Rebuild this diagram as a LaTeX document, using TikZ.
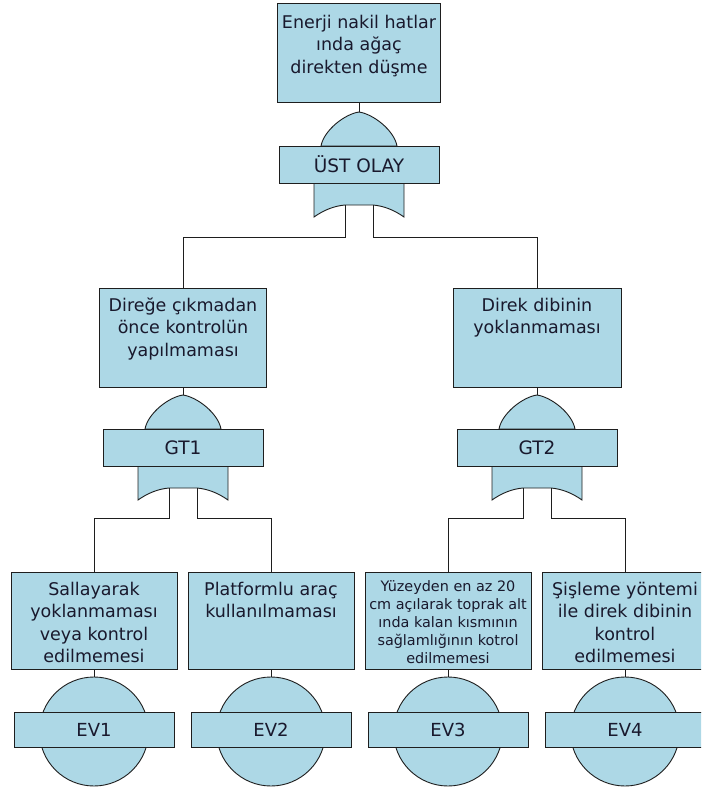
\documentclass[tikz,border=0pt]{standalone}
\usepackage{fontspec}
\setmainfont{DejaVu Sans}
\begin{document}
\definecolor{boxblue}{RGB}{173,216,230}
\definecolor{inkline}{RGB}{30,30,30}
\definecolor{inktext}{RGB}{25,25,45}
\tikzset{
  shapeline/.style={draw=inkline, line width=0.9pt, fill=boxblue},
  eventbox/.style={shapeline, rectangle, inner sep=0pt},
  boxtext/.style={inner sep=0pt, align=center, text=inktext, anchor=north,
    font=\fontsize{17.5}{22.5}\selectfont},
  smalltext/.style={boxtext, font=\fontsize{14.4}{18}\selectfont},
  gatebox/.style={shapeline, rectangle, inner sep=0pt, minimum width=160pt,
    minimum height=37pt, text=inktext, font=\fontsize{18.5}{22}\selectfont},
  evbox/.style={shapeline, rectangle, inner sep=0pt, minimum width=160pt,
    minimum height=35pt, text=inktext, font=\fontsize{18}{22}\selectfont},
  wire/.style={draw=inkline, line width=0.9pt},
}
% OR gate: arch on top, labelled bar, notched skirt below
% #1 name, #2 centre x, #3 apex y, #4 label
\newcommand\ftgate[4]{%
  \coordinate (#1apex) at (#2,#3);
  \filldraw[shapeline] (#2-38,#3+34) .. controls (#2-35,#3+18) and (#2-14,#3+2) .. (#1apex)
     .. controls (#2+14,#3+2) and (#2+35,#3+18) .. (#2+38,#3+34) -- cycle;
  \filldraw[shapeline] (#2-45,#3+71) -- (#2-45,#3+105)
     .. controls (#2-35,#3+98) and (#2-25,#3+94) .. (#2-14,#3+93)
     -- (#2+14,#3+93)
     .. controls (#2+25,#3+94) and (#2+35,#3+98) .. (#2+45,#3+105) -- (#2+45,#3+71);
  \node[gatebox] (#1) at (#2,#3+52.5) {#4};
  \coordinate (#1nl) at (#2-14,#3+93);
  \coordinate (#1nr) at (#2+14,#3+93);
}
% basic event: circle crossed by a labelled bar
% #1 name, #2 centre x, #3 top y, #4 label
\newcommand\ftevent[4]{%
  \coordinate (#1top) at (#2,#3);
  \filldraw[shapeline] (#2,#3+54.5) circle[radius=54.5pt];
  \node[evbox] (#1) at (#2,#3+52.5) {#4};
}
\begin{tikzpicture}[x=1pt,y=-1pt]
  \useasboundingbox (0,0) rectangle (701,789);
  \clip (0,0) rectangle (701,789);

  % event boxes
  \node[eventbox, minimum width=163pt, minimum height=99pt] (top) at (359,52.5) {};
  \node[boxtext] (topT) at ([yshift=-12pt]top.north)
    {Enerji nakil hatlar\\ında ağaç\\direkten düşme};

  \node[eventbox, minimum width=167pt, minimum height=99pt] (midL) at (183,337.5) {};
  \node[boxtext] (midLT) at ([yshift=-10pt]midL.north)
    {Direğe çıkmadan\\önce kontrolün\\yapılmaması};

  \node[eventbox, minimum width=168pt, minimum height=99pt] (midR) at (537,337.5) {};
  \node[boxtext] (midRT) at ([yshift=-10pt]midR.north)
    {Direk dibinin\\yoklanmaması};

  \node[eventbox, minimum width=166pt, minimum height=97pt] (b1) at (94,620.5) {};
  \node[boxtext] (b1T) at ([yshift=-10pt]b1.north)
    {Sallayarak\\yoklanmaması\\veya kontrol\\edilmemesi};

  \node[eventbox, minimum width=166pt, minimum height=97pt] (b2) at (271,620.5) {};
  \node[boxtext] (b2T) at ([yshift=-10pt]b2.north)
    {Platformlu araç\\kullanılmaması};

  \node[eventbox, minimum width=166pt, minimum height=97pt] (b3) at (448,620.5) {};
  \node[smalltext] (b3T) at ([yshift=-9pt]b3.north)
    {Yüzeyden en az 20\\cm açılarak toprak alt\\ında kalan kısmının\\sağlamlığının kotrol\\edilmemesi};

  \node[eventbox, minimum width=166pt, minimum height=97pt] (b4) at (625,620.5) {};
  \node[boxtext] (b4T) at ([yshift=-10pt]b4.north)
    {Şişleme yöntemi\\ile direk dibinin\\kontrol\\edilmemesi};

  % gates
  \ftgate{g0}{359}{112}{ÜST OLAY}
  \ftgate{g1}{183}{395}{GT1}
  \ftgate{g2}{537}{395}{GT2}

  % basic events
  \ftevent{e1}{94}{677}{EV1}
  \ftevent{e2}{271}{677}{EV2}
  \ftevent{e3}{448}{677}{EV3}
  \ftevent{e4}{625}{677}{EV4}

  % connectors
  \draw[wire] (top.south) -- (g0apex);
  \draw[wire] (midL.south) -- (g1apex);
  \draw[wire] (midR.south) -- (g2apex);
  \draw[wire] (g0nl) -- ++(0,32) -| (midL.north);
  \draw[wire] (g0nr) -- ++(0,32) -| (midR.north);
  \draw[wire] (g1nl) -- ++(0,30) -| (b1.north);
  \draw[wire] (g1nr) -- ++(0,30) -| (b2.north);
  \draw[wire] (g2nl) -- ++(0,30) -| (b3.north);
  \draw[wire] (g2nr) -- ++(0,30) -| (b4.north);
  \draw[wire] (b1.south) -- (e1top);
  \draw[wire] (b2.south) -- (e2top);
  \draw[wire] (b3.south) -- (e3top);
  \draw[wire] (b4.south) -- (e4top);
\end{tikzpicture}
\end{document}
